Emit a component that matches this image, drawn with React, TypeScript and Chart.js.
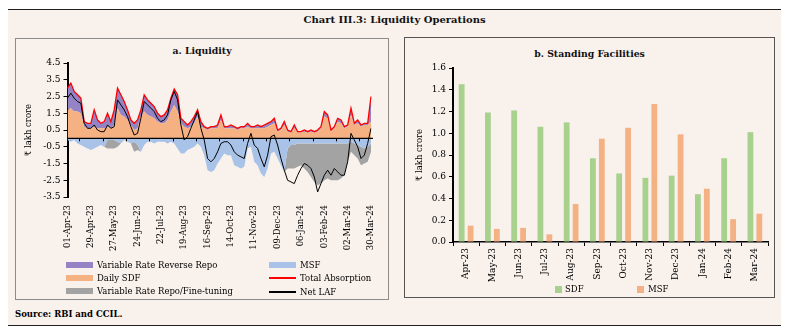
import React, { useEffect, useRef } from 'react';
import { Chart, registerables } from 'chart.js';

Chart.register(...registerables);

// ---------- Panel a: Liquidity (sampled every 4 days, 01-Apr-23 .. 30-Mar-24) ----------
const START_DATE = Date.UTC(2023, 3, 1);
const STEP_DAYS = 4;
const N_POINTS = 92;
const TICK_EVERY = 7; // a label every 28 days
const MONTHS = ['Jan', 'Feb', 'Mar', 'Apr', 'May', 'Jun', 'Jul', 'Aug', 'Sep', 'Oct', 'Nov', 'Dec'];
const CATEGORIES: string[] = Array.from({ length: N_POINTS }, (_, i) => {
  const d = new Date(START_DATE + i * STEP_DAYS * 86400000);
  const dd = String(d.getUTCDate()).padStart(2, '0');
  const yy = String(d.getUTCFullYear()).slice(2);
  return `${dd}-${MONTHS[d.getUTCMonth()]}-${yy}`;
});

const DAILY_SDF = [
  1.7, 1.8, 1.6, 1.6, 1.5, 0.7, 0.6, 0.6, 0.7, 0.6,
  0.6, 0.6, 0.7, 0.6, 0.8, 1.8, 1.4, 1.3, 1.1, 0.8,
  0.5, 0.6, 1.3, 1.6, 1.4, 1.3, 1.2, 1.0, 0.9, 0.9,
  1.1, 1.6, 2.0, 1.6, 0.9, 0.7, 0.6, 0.7, 0.9, 1.3,
  0.7, 0.6, 0.5, 0.6, 0.6, 0.6, 1.1, 0.6, 0.6, 0.6,
  0.6, 0.5, 0.6, 0.6, 0.7, 0.6, 0.6, 0.6, 0.6, 0.6,
  0.7, 0.8, 0.9, 0.4, 0.5, 0.8, 0.4, 0.35, 0.6, 0.35,
  0.35, 0.4, 0.35, 0.4, 0.35, 0.4, 0.6, 1.3, 1.2, 0.4,
  0.6, 1.0, 0.9, 0.6, 0.7, 1.4, 0.8, 0.9, 0.7, 0.8,
  0.8, 1.0,
];

const VRRR = [
  1.3, 1.5, 1.2, 1.0, 0.9, 0.3, 0.3, 0.3, 1.0, 0.5,
  0.3, 0.4, 0.8, 0.4, 0.9, 1.2, 1.2, 0.9, 0.6, 0.3,
  0.4, 0.5, 0.4, 1.0, 0.9, 0.8, 0.7, 0.5, 0.4, 0.5,
  0.6, 0.8, 0.95, 1.0, 0.3, 0.3, 0.2, 0.3, 0.4, 0.4,
  0.3, 0.1, 0.1, 0.1, 0.1, 0.2, 0.3, 0.1, 0.1, 0.2,
  0.1, 0.1, 0.1, 0.1, 0.2, 0.1, 0.1, 0.2, 0.1, 0.2,
  0.2, 0.2, 0.3, 0.1, 0.1, 0.2, 0.1, 0.05, 0.2, 0.05,
  0.05, 0.1, 0.05, 0.1, 0.05, 0.1, 0.1, 0.3, 0.2, 0.1,
  0.1, 0.2, 0.2, 0.1, 0.1, 0.4, 0.1, 0.2, 0.1, 0.1,
  0.1, 1.5,
];

const MSF_DAILY = [
  -0.1, -0.2, -0.1, -0.3, -0.4, -0.5, -0.6, -0.7, -0.6, -0.5,
  -0.4, -0.5, -0.1, -0.1, -0.1, -0.2, -0.3, -0.1, -0.2, -0.3,
  -0.2, -0.4, -0.8, -0.4, -0.2, -0.2, -0.3, -0.2, -0.2, -0.2,
  -0.3, -0.2, -0.3, -0.6, -0.9, -0.9, -0.7, -0.6, -0.5, -0.3,
  -0.5, -1.0, -1.9, -2.0, -1.9, -1.5, -1.2, -0.9, -1.0, -1.0,
  -1.6, -1.7, -1.8, -1.7, -0.6, -0.5, -1.4, -1.6, -2.1, -2.3,
  -1.8, -0.9, -0.8, -1.2, -1.6, -2.0, -0.6, -0.4, -0.4, -0.3,
  -0.3, -0.3, -0.3, -0.3, -0.3, -0.3, -0.3, -0.3, -0.3, -0.3,
  -0.3, -0.3, -0.3, -0.3, -0.3, -0.2, -0.3, -0.4, -0.5, -0.6,
  -0.5, -0.3,
];

const VRR_FINE_TUNING = [
  0, 0, 0, 0, 0, 0, 0, 0, 0, 0,
  0, 0, -0.5, -0.5, -0.5, -0.3, 0, 0, 0, 0,
  -0.6, -0.3, 0, 0, 0, 0, 0, 0, 0, 0,
  0, 0, 0, 0, 0, 0, 0, 0, 0, 0,
  0, 0, 0, 0, 0, 0, 0, 0, 0, 0,
  0, 0, 0, 0, 0, 0, 0, 0, 0, 0,
  0, 0, 0, 0, 0, 0, -1.2, -1.4, -1.4, -1.4,
  -1.3, -1.5, -1.7, -2.0, -2.3, -2.5, -2.4, -2.2, -2.1, -2.2,
  -2.2, -2.2, -2.1, -1.9, -1.1, -0.6, -0.7, -0.8, -1.1, -0.9,
  -0.9, -0.5,
];

const TOTAL_ABSORPTION = [
  3.0, 3.3, 2.8, 2.6, 2.4, 1.0, 0.9, 0.9, 1.7, 1.1,
  0.9, 1.0, 1.5, 1.0, 1.7, 3.0, 2.6, 2.2, 1.7, 1.1,
  0.9, 1.1, 1.7, 2.6, 2.3, 2.1, 1.9, 1.5, 1.3, 1.4,
  1.7, 2.4, 2.95, 2.6, 1.2, 1.0, 0.8, 1.0, 1.3, 1.7,
  1.0, 0.7, 0.6, 0.7, 0.7, 0.8, 1.4, 0.7, 0.7, 0.8,
  0.7, 0.6, 0.7, 0.7, 0.9, 0.7, 0.7, 0.8, 0.7, 0.8,
  0.9, 1.0, 1.2, 0.5, 0.6, 1.0, 0.5, 0.4, 0.8, 0.4,
  0.4, 0.5, 0.4, 0.5, 0.4, 0.5, 0.7, 1.6, 1.4, 0.5,
  0.7, 1.2, 1.1, 0.7, 0.8, 1.8, 0.9, 1.1, 0.8, 0.9,
  0.9, 2.5,
];

const NET_LAF = [
  2.4, 2.7, 2.4, 2.2, 2.1, 0.9, 0.6, 0.6, 0.8, 0.5,
  0.4, 0.4, 0.8, 0.6, 0.7, 2.3, 2.0, 1.7, 1.3, 0.7,
  0.2, 0.3, 1.2, 2.2, 2.0, 1.8, 1.6, 1.2, 1.0, 1.1,
  1.4, 2.3, 2.8, 2.3, 0.8, -0.1, 0.1, 0.6, 1.1, 1.6,
  0.6, -0.1, -1.2, -1.4, -1.2, -0.8, -0.3, -0.2, -0.2, -0.4,
  -0.8, -1.0, -1.1, -1.2, -0.3, 0.3, -0.4, -0.6, -1.2, -1.7,
  -1.0, 0.1, 0.2, -0.4, -1.2, -1.9, -2.5, -2.6, -2.7, -2.2,
  -1.8, -1.5, -1.6, -1.8, -2.3, -3.2, -2.7, -2.2, -1.9, -2.2,
  -1.8, -2.0, -2.2, -2.2, -1.4, 0.3, -0.1, -0.5, -1.2, -1.0,
  -0.3, 0.6,
];

// ---------- Panel b: Standing Facilities ----------
const MONTH_CATEGORIES = ['Apr-23', 'May-23', 'Jun-23', 'Jul-23', 'Aug-23', 'Sep-23', 'Oct-23', 'Nov-23', 'Dec-23', 'Jan-24', 'Feb-24', 'Mar-24'];
const SDF_MONTHLY = [1.45, 1.19, 1.21, 1.06, 1.10, 0.77, 0.63, 0.59, 0.61, 0.44, 0.77, 1.01];
const MSF_MONTHLY = [0.15, 0.12, 0.13, 0.07, 0.35, 0.95, 1.05, 1.27, 0.99, 0.49, 0.21, 0.26];

const FONT = '"DejaVu Serif", "Liberation Serif", serif';
const BG = '#F8F1EC';
const C_VRRR = '#9484C6';
const C_SDF = '#F6B182';
const C_VRR = '#A3A3A3';
const C_MSF = '#A9C3E8';
const C_GREEN = '#A9D18E';
const C_ORANGE = '#F4B183';

const zeroLinePlugin = {
  id: 'zeroLine',
  afterDatasetsDraw(chart: any) {
    const { ctx, chartArea, scales } = chart;
    const y0 = scales.y.getPixelForValue(0);
    ctx.save();
    ctx.strokeStyle = '#000';
    ctx.lineWidth = 1.3;
    ctx.beginPath();
    ctx.moveTo(chartArea.left, y0);
    ctx.lineTo(chartArea.right + 2, y0);
    ctx.stroke();
    ctx.lineWidth = 1;
    for (let i = TICK_EVERY / 2; i < CATEGORIES.length; i += TICK_EVERY) {
      const x = Math.round(scales.x.getPixelForValue(i)) + 0.5;
      ctx.beginPath();
      ctx.moveTo(x, y0);
      ctx.lineTo(x, y0 + 3);
      ctx.stroke();
    }
    ctx.restore();
  },
};

function LiquidityChart() {
  const ref = useRef<HTMLCanvasElement>(null);
  useEffect(() => {
    const area = (label: string, data: number[], color: string, stack: string, fill: any) => ({
      type: 'line' as const,
      label,
      data,
      stack,
      fill,
      order: 2,
      backgroundColor: color,
      borderColor: color,
      borderWidth: 0,
      pointRadius: 0,
      tension: 0,
    });
    const chart = new Chart(ref.current!, {
      type: 'line',
      data: {
        labels: CATEGORIES,
        datasets: [
          area('Daily SDF', DAILY_SDF, C_SDF, 'pos', 'origin'),
          area('Variable Rate Reverse Repo', VRRR, C_VRRR, 'pos', '-1'),
          area('MSF', MSF_DAILY, C_MSF, 'neg', 'origin'),
          area('Variable Rate Repo/Fine-tuning', VRR_FINE_TUNING, C_VRR, 'neg', '-1'),
          {
            type: 'line', label: 'Total Absorption', data: TOTAL_ABSORPTION, stack: 'total', order: 1,
            borderColor: '#FF0000', borderWidth: 1.3, pointRadius: 0, fill: false, tension: 0,
          },
          {
            type: 'line', label: 'Net LAF', data: NET_LAF, stack: 'net', order: 0,
            borderColor: '#000000', borderWidth: 1, pointRadius: 0, fill: false, tension: 0,
          },
        ] as any,
      },
      options: {
        responsive: false,
        animation: false,
        layout: { padding: { left: 0, right: 17, top: 24, bottom: 7 } },
        plugins: { legend: { display: false }, tooltip: { enabled: false }, title: { display: false } },
        scales: {
          x: {
            type: 'category',
            offset: false,
            grid: { display: false, drawTicks: false },
            border: { display: false },
            ticks: {
              autoSkip: false,
              maxRotation: 90,
              minRotation: 90,
              padding: 8,
              color: '#000',
              font: { family: FONT, size: 8.5 },
              callback: (_v: any, i: number) => (i % TICK_EVERY === 0 ? CATEGORIES[i] : ''),
            },
            afterFit: (s: any) => { s.height = 95; s.paddingLeft = 0; s.paddingRight = 0; },
          },
          y: {
            stacked: true,
            min: -3.5,
            max: 4.5,
            grid: { display: true, drawOnChartArea: false, drawTicks: true, tickLength: 4, color: '#000' },
            border: { display: true, color: '#000', width: 2 },
            ticks: {
              stepSize: 1,
              padding: 3,
              color: '#000',
              font: { family: FONT, size: 9 },
              callback: (v: any) => Number(v).toFixed(1),
            },
            title: { display: true, text: '₹ lakh crore', color: '#000', font: { family: FONT, size: 8.5 }, padding: { top: 8, bottom: 0 } },
            afterFit: (s: any) => { s.width = 51.5; s.paddingTop = 0; s.paddingBottom = 0; },
          },
        },
      } as any,
      plugins: [zeroLinePlugin],
    });
    return () => chart.destroy();
  }, []);
  return (
    <canvas ref={ref} width={372} height={260}
      style={{ position: 'absolute', left: 8, top: 31, width: 372, height: 260 }} />
  );
}

function FacilitiesChart() {
  const ref = useRef<HTMLCanvasElement>(null);
  useEffect(() => {
    const chart = new Chart(ref.current!, {
      type: 'bar',
      data: {
        labels: MONTH_CATEGORIES,
        datasets: [
          { label: 'SDF', data: SDF_MONTHLY, backgroundColor: C_GREEN, categoryPercentage: 0.68, barPercentage: 0.65 },
          { label: 'MSF', data: MSF_MONTHLY, backgroundColor: C_ORANGE, categoryPercentage: 0.68, barPercentage: 0.65 },
        ],
      },
      options: {
        responsive: false,
        animation: false,
        layout: { padding: { left: 0, right: 6, top: 30, bottom: 0 } },
        plugins: { legend: { display: false }, tooltip: { enabled: false }, title: { display: false } },
        scales: {
          x: {
            grid: { display: true, drawOnChartArea: false, drawTicks: true, tickLength: 4, color: '#000', offset: true },
            border: { display: true, color: '#000', width: 1.5 },
            ticks: {
              autoSkip: false,
              maxRotation: 90,
              minRotation: 90,
              padding: 2,
              color: '#000',
              font: { family: FONT, size: 9 },
            },
            afterFit: (s: any) => { s.height = 55; s.paddingLeft = 0; s.paddingRight = 0; },
          },
          y: {
            min: 0,
            max: 1.6,
            grid: { display: true, drawOnChartArea: false, drawTicks: true, tickLength: 4, color: '#000' },
            border: { display: true, color: '#000', width: 2 },
            ticks: {
              stepSize: 0.2,
              padding: 3,
              color: '#000',
              font: { family: FONT, size: 9 },
              callback: (v: any) => Number(v).toFixed(1),
            },
            title: { display: true, text: '₹ lakh crore', color: '#000', font: { family: FONT, size: 8.5 }, padding: { top: 10, bottom: 0 } },
            afterFit: (s: any) => { s.width = 48; s.paddingTop = 0; s.paddingBottom = 0; },
          },
        },
      } as any,
    });
    return () => chart.destroy();
  }, []);
  return (
    <canvas ref={ref} width={369} height={259}
      style={{ position: 'absolute', left: 397, top: 30, width: 369, height: 259 }} />
  );
}

const textStyle: React.CSSProperties = {
  position: 'absolute',
  fontFamily: FONT,
  fontSize: 8.5,
  color: '#000',
  lineHeight: '12px',
  height: 12,
  whiteSpace: 'nowrap',
};

function Swatch({ left, cy, w, h, color }: { left: number; cy: number; w: number; h: number; color: string }) {
  return <div style={{ position: 'absolute', left, top: cy - h / 2, width: w, height: h, background: color }} />;
}

function Label({ left, cy, text }: { left: number; cy: number; text: string }) {
  return <div style={{ ...textStyle, left, top: cy - 6 }}>{text}</div>;
}

export default function App() {
  return (
    <div style={{ position: 'relative', width: 773, height: 320 }}>
      <div style={{ position: 'absolute', left: -1, top: 1, width: 775, height: 317, boxSizing: 'border-box', border: '1.5px solid #231F20', background: BG }} />
      <div style={{ position: 'absolute', left: 0, top: 6, width: 773, textAlign: 'center', fontFamily: FONT, fontWeight: 'bold', fontSize: 10, lineHeight: '12px', color: '#111' }}>
        Chart III.3: Liquidity Operations
      </div>
      <div style={{ position: 'absolute', left: 7, top: 30, width: 374, height: 262, boxSizing: 'border-box', border: '1.5px solid #8C8C8C' }} />
      <div style={{ position: 'absolute', left: 396, top: 29, width: 371, height: 261, boxSizing: 'border-box', border: '1.5px solid #555' }} />
      <div style={{ position: 'absolute', left: 7, width: 374, top: 37, textAlign: 'center', fontFamily: FONT, fontWeight: 'bold', fontSize: 9.3, lineHeight: '12px', color: '#111' }}>
        a. Liquidity
      </div>
      <div style={{ position: 'absolute', left: 396, width: 371, top: 40, textAlign: 'center', fontFamily: FONT, fontWeight: 'bold', fontSize: 9.3, lineHeight: '12px', color: '#111' }}>
        b. Standing Facilities
      </div>
      <LiquidityChart />
      <FacilitiesChart />
      {/* legend a */}
      <Swatch left={58} cy={256.5} w={27} h={6} color={C_VRRR} />
      <Label left={89} cy={256.5} text="Variable Rate Reverse Repo" />
      <Swatch left={58} cy={270} w={27} h={6} color={C_SDF} />
      <Label left={89} cy={270} text="Daily SDF" />
      <Swatch left={58} cy={283} w={27} h={6} color={C_VRR} />
      <Label left={89} cy={283} text="Variable Rate Repo/Fine-tuning" />
      <Swatch left={261} cy={256.5} w={27} h={6} color={C_MSF} />
      <Label left={292} cy={256.5} text="MSF" />
      <Swatch left={261} cy={270} w={27} h={1.5} color="#FF0000" />
      <Label left={292} cy={270} text="Total Absorption" />
      <Swatch left={261} cy={284} w={27} h={1.5} color="#000" />
      <Label left={292} cy={284} text="Net LAF" />
      {/* legend b */}
      <Swatch left={546.5} cy={281} w={7} h={7} color={C_GREEN} />
      <Label left={557} cy={281} text="SDF" />
      <Swatch left={628.5} cy={281} w={7} h={7} color={C_ORANGE} />
      <Label left={640} cy={281} text="MSF" />
      <div style={{ ...textStyle, left: 7, top: 300, fontWeight: 'bold' }}>Source: RBI and CCIL.</div>
    </div>
  );
}
